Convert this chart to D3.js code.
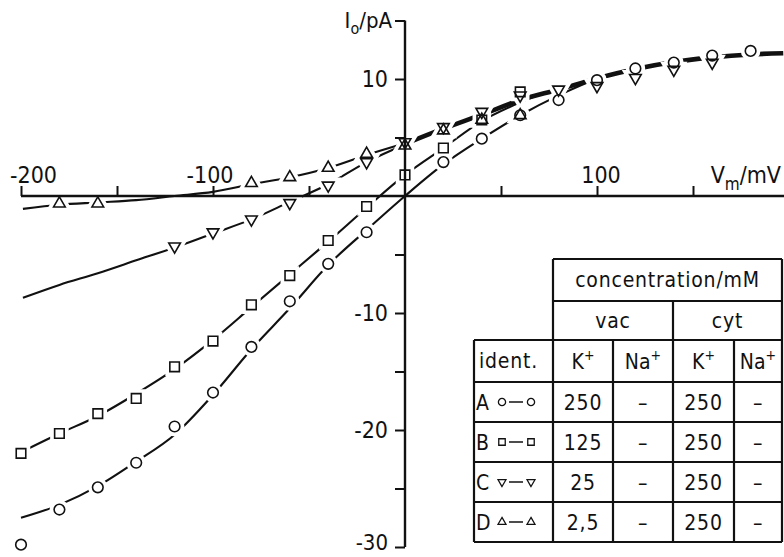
<!DOCTYPE html>
<html><head><meta charset="utf-8">
<script src="https://cdn.jsdelivr.net/npm/d3@7"></script>
<style>
body{margin:0;background:#fff;}
svg{display:block;background:#fff;}
text{font-family:"DejaVu Sans Condensed","DejaVu Sans",sans-serif;font-stretch:condensed;fill:#111;}
</style></head><body>
<svg id="c" width="784" height="557"></svg>
<script>
// ---------- data ----------
const vA = [-200,-180,-160,-140,-120,-100,-80,-60,-40,-20,20,40,60,80,100,120,140,160,180];
const iA = [-29.8,-26.8,-24.9,-22.8,-19.7,-16.8,-12.9,-9.0,-5.8,-3.1,2.9,4.9,6.9,8.2,9.9,10.9,11.4,12.0,12.4];
const vB = [-200,-180,-160,-140,-120,-100,-80,-60,-40,-20,0,20,40,60];
const iB = [-22.0,-20.3,-18.6,-17.3,-14.6,-12.4,-9.3,-6.8,-3.8,-0.9,1.8,4.1,6.5,8.9];
const vC = [-120,-100,-80,-60,-40,-20,0,20,40,60,80,100,120,140,160];
const iC = [-4.3,-3.1,-2.0,-0.6,0.9,2.9,4.6,5.9,7.2,8.6,9.1,9.4,10.1,10.8,11.4];
const vD = [-180,-160,-80,-60,-40,-20,0,20,40,60];
const iD = [-0.65,-0.65,1.1,1.6,2.4,3.6,4.3,5.6,6.5,6.9];

// fitted curves
const fitAV = [-200,-180,-160,-140,-120,-100,-80,-60,-40,-20,0,20,40,60,80,95];
const fitAI = [-27.5,-26.4,-24.8,-22.7,-20.4,-17.0,-13.1,-9.6,-5.9,-2.9,0,2.7,4.9,6.9,8.6,9.7];
const fitBV = [-200,-180,-160,-140,-120,-100,-80,-60,-40,-20,0,20,40,60,72];
const fitBI = [-21.9,-20.3,-18.8,-16.9,-14.8,-12.3,-9.5,-6.7,-3.9,-1.0,1.8,4.1,6.4,8.0,8.8];
const fitCV = [-199,-180,-160,-140,-120,-100,-80,-60,-40,-20,0];
const fitCI = [-8.7,-7.6,-6.6,-5.5,-4.4,-3.2,-2.0,-0.5,1.0,2.9,4.4];
const fitDV = [-199,-180,-160,-140,-120,-100,-80,-60,-40,-20,0];
const fitDI = [-1.1,-0.75,-0.55,-0.35,0.0,0.35,1.0,1.6,2.4,3.5,4.5];
const fitCommonV = [0,20,40,60,80,100,120,140,160,180,197];
const fitCommonI = [4.45,5.75,6.95,8.2,9.1,10.05,10.85,11.45,11.85,12.1,12.2];

// axes
const xTicks = [-200,-150,-100,-50,50,100,150];
const xLabelVals = [-200,-100,100];
const yTicks = [15,10,5,-5,-10,-15,-20,-25,-30];
const yLabelVals = [10,-10,-20,-30];

// table
const identLetters = ["A","B","C","D"];
const identShapes = ["circle","square","down","up"];
const vacK = ["250","125","25","2,5"];
const vacNa = ["–","–","–","–"];
const cytK = ["250","250","250","250"];
const cytNa = ["–","–","–","–"];

// ---------- drawing ----------
const svg = d3.select("#c");
const x = d3.scaleLinear().domain([-200,150]).range([21,693]);
const y = d3.scaleLinear().domain([-30,10]).range([547,79]);

const zip = (vs, is) => vs.map((v,k)=>({v, i:is[k]}));
const line = d3.line().x(d=>x(d.v)).y(d=>y(d.i)).curve(d3.curveMonotoneX);

const lg = svg.append("g");
const halo = svg.append("g");
const ax = svg.append("g");
const mk = svg.append("g");

// fit lines
const fits = [[fitAV,fitAI],[fitBV,fitBI],[fitCV,fitCI],[fitDV,fitDI]];
fits.forEach(([vs,is]) => {
  lg.append("path").attr("d", line(zip(vs,is))).attr("fill","none")
    .attr("stroke","#111").attr("stroke-width",2.1);
});
lg.append("path").attr("d", line(zip(fitCommonV,fitCommonI))).attr("fill","none")
  .attr("stroke","#111").attr("stroke-width",4.6);

// axes
ax.append("line").attr("x1", x(-200)).attr("x2", 784).attr("y1", y(0)).attr("y2", y(0))
  .attr("stroke","#111").attr("stroke-width",2.4);
const xa = ax.append("g").attr("transform",`translate(0,${y(0)})`)
  .call(d3.axisTop(x).tickValues(xTicks).tickSize(10).tickSizeOuter(0).tickFormat(""));
xa.select(".domain").remove();
xa.selectAll("line").attr("stroke","#111").attr("stroke-width",2);
ax.append("line").attr("x1", x(0)).attr("x2", x(0)).attr("y1", y(15)).attr("y2", y(-30))
  .attr("stroke","#111").attr("stroke-width",2.4);
const ya = ax.append("g").attr("transform",`translate(${x(0)},0)`)
  .call(d3.axisLeft(y).tickValues(yTicks).tickSize(10).tickSizeOuter(0).tickFormat(""));
ya.select(".domain").remove();
ya.selectAll("line").attr("stroke","#111").attr("stroke-width",2);

// axis labels
svg.selectAll(".xl").data(xLabelVals).join("text").attr("class","xl")
  .attr("x", d => d === -200 ? x(d) - 11 : (d < 0 ? x(d) - 3 : x(d) + 4))
  .attr("text-anchor", d => d === -200 ? "start" : "middle")
  .attr("y", 183).attr("font-size", 23).text(d => String(d));
svg.selectAll(".yl").data(yLabelVals).join("text").attr("class","yl")
  .attr("x", 388).attr("text-anchor","end")
  .attr("y", d => Math.min(y(d) + 8, 550)).attr("font-size", d => d === -30 ? 22 : 23).text(d => String(d));

const t1 = svg.append("text").attr("x", 392).attr("y", 28).attr("text-anchor","end").attr("font-size",22);
t1.append("tspan").text("I");
t1.append("tspan").attr("font-size",16).attr("dy",6).text("o");
t1.append("tspan").attr("dy",-6).text("/pA");
const t2 = svg.append("text").attr("x", 781).attr("y", 183).attr("text-anchor","end").attr("font-size",23);
t2.append("tspan").text("V");
t2.append("tspan").attr("font-size",17).attr("dy",7).text("m");
t2.append("tspan").attr("dy",-7).text("/mV");

// markers
function symPath(shape, s){
  if (shape==="circle") return d3.symbol(d3.symbolCircle, Math.PI*s*s)();
  if (shape==="square") return d3.symbol(d3.symbolSquare, (s*1.8)*(s*1.8))();
  return d3.symbol(d3.symbolTriangle, Math.sqrt(3)/4*(s*2.2)*(s*2.2))();
}
const series = [
  {pts: zip(vA,iA), shape:"circle"},
  {pts: zip(vB,iB), shape:"square"},
  {pts: zip(vC,iC), shape:"down"},
  {pts: zip(vD,iD), shape:"up"}
];
const tf = (d, shape) => `translate(${x(d.v)},${y(d.i)})` + (shape==="down" ? " rotate(180)" : "");
series.forEach(s => {
  halo.selectAll(null).data(s.pts).join("path")
    .attr("d", symPath(s.shape, 5.3)).attr("transform", d=>tf(d,s.shape))
    .attr("fill","#fff").attr("stroke","#fff").attr("stroke-width",9);
});
series.forEach(s => {
  mk.selectAll(null).data(s.pts).join("path")
    .attr("d", symPath(s.shape, 5.3)).attr("transform", d=>tf(d,s.shape))
    .attr("fill","none").attr("stroke","#111").attr("stroke-width",1.6);
});

// ---------- table ----------
const cx = [474,553,613,673,734,782];
const ry = [259,301,340,382,422,462,502,542];
const tb = svg.append("g").attr("stroke","#111").attr("stroke-width",2.2);
const hl = (x1,x2,yy)=>tb.append("line").attr("x1",x1).attr("x2",x2).attr("y1",yy).attr("y2",yy);
const vl = (xx,y1,y2)=>tb.append("line").attr("x1",xx).attr("x2",xx).attr("y1",y1).attr("y2",y2);
hl(cx[1],cx[5],ry[0]); hl(cx[1],cx[5],ry[1]);
for (let k=2;k<ry.length;k++) hl(cx[0],cx[5],ry[k]);
vl(cx[0],ry[2],ry[7]); vl(cx[1],ry[0],ry[7]); vl(cx[5],ry[0],ry[7]);
vl(cx[3],ry[1],ry[7]); vl(cx[2],ry[2],ry[7]); vl(cx[4],ry[2],ry[7]);

const fs = 21;
const mid = (a,b)=>(a+b)/2;
const txt = (t, xx, yy, anchor="middle") => svg.append("text").attr("x",xx).attr("y",yy)
  .attr("text-anchor",anchor).attr("font-size",fs).attr("letter-spacing",0.8).text(t);
txt("concentration/mM", mid(cx[1],cx[5]), mid(ry[0],ry[1])+7);
txt("vac", mid(cx[1],cx[3]), mid(ry[1],ry[2])+7);
txt("cyt", mid(cx[3],cx[5]), mid(ry[1],ry[2])+7);
txt("ident.", 479, mid(ry[2],ry[3])+7, "start");
const ion = (name, xx) => {
  const t = svg.append("text").attr("x",xx).attr("y",mid(ry[2],ry[3])+8).attr("text-anchor","middle").attr("font-size",fs);
  t.append("tspan").text(name);
  t.append("tspan").attr("font-size",14).attr("dy",-9).text("+");
};
ion("K", mid(cx[1],cx[2])); ion("Na", mid(cx[2],cx[3])); ion("K", mid(cx[3],cx[4])); ion("Na", mid(cx[4],cx[5]));

identLetters.forEach((L,k) => {
  const cyy = mid(ry[3+k], ry[4+k]);
  txt(L, 476, cyy+7.5, "start");
  txt(vacK[k], mid(cx[1],cx[2]), cyy+7.5);
  txt(vacNa[k], mid(cx[2],cx[3]), cyy+7.5);
  txt(cytK[k], mid(cx[3],cx[4]), cyy+7.5);
  txt(cytNa[k], mid(cx[4],cx[5]), cyy+7.5);
  const shape = identShapes[k];
  [502,531].forEach(px => {
    svg.append("path").attr("d", symPath(shape, 3.6))
      .attr("transform", `translate(${px},${cyy})` + (shape==="down"?" rotate(180)":""))
      .attr("fill","none").attr("stroke","#111").attr("stroke-width",1.3);
  });
  svg.append("line").attr("x1",509).attr("x2",523).attr("y1",cyy).attr("y2",cyy)
    .attr("stroke","#111").attr("stroke-width",1.5);
});
</script></body></html>
